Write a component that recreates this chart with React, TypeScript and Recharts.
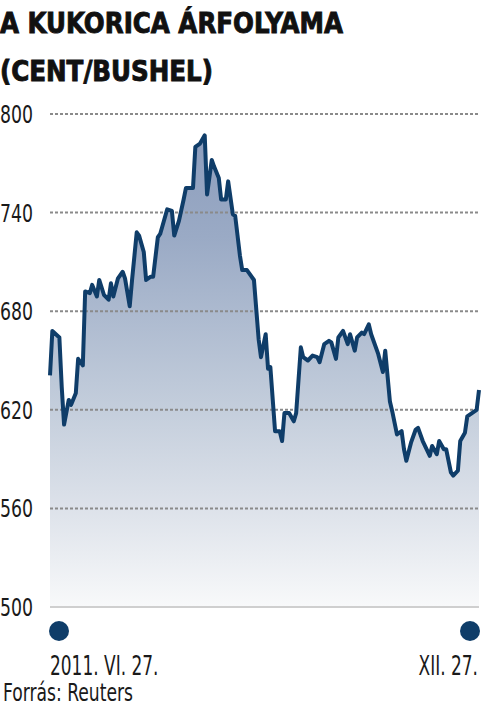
import { ComposedChart, Area, Line, XAxis, YAxis, ReferenceLine } from "recharts";

// days since 2011. VI. 27.
const days = [
  0, 1, 4, 5, 6, 8, 9, 11, 12, 14, 15, 17, 18, 20, 21, 23, 25, 26, 27, 29,
  31, 32, 34, 35, 37, 38, 40, 41, 43, 44, 46, 47, 48, 50, 52, 53, 55, 57, 58, 60,
  61, 62, 64, 66, 67, 69, 70, 72, 73, 75, 76, 78, 79, 81, 82, 84, 85, 87, 89, 90,
  92, 93, 94, 96, 98, 99, 100, 102, 104, 105, 107, 108, 110, 112, 114, 115, 117, 119, 120, 122,
  123, 125, 127, 128, 130, 131, 133, 134, 136, 137, 140, 142, 143, 145, 146, 148, 150, 151, 152, 154,
  156, 157, 159, 162, 163, 165, 166, 168, 169, 171, 172, 174, 175, 177, 178, 180, 182, 183,
];

// cent/bushel
const prices = [
  641, 668, 664, 634, 611, 626, 623, 630, 651, 647, 692, 691, 696, 689, 699, 690, 687, 697, 689, 700,
  704, 700, 683, 699, 728, 726, 716, 699, 701, 701, 725, 727, 732, 742, 741, 726, 735, 748, 755, 755,
  755, 780, 782, 787, 751, 772, 768, 761, 748, 748, 759, 739, 738, 714, 705, 705, 703, 699, 663, 652,
  666, 645, 646, 607, 607, 601, 618, 618, 613, 618, 658, 652, 650, 653, 652, 649, 660, 662, 661, 651,
  664, 668, 660, 666, 656, 664, 667, 666, 672, 666, 654, 643, 656, 625, 619, 605, 607, 596, 589, 600,
  608, 609, 601, 592, 598, 593, 601, 596, 596, 582, 580, 583, 601, 606, 616, 618, 620, 632,
];

const yTicks = [500, 560, 620, 680, 740, 800];
const gridLevels = [560, 620, 680, 740, 800];
const xTicks = [0, 183];
const xLabels = ["2011. VI. 27.", "XII. 27."];

const data = days.map((day, i) => ({ day, price: prices[i] }));

const NAVY = "#0f3d69";
const narrow = "'Liberation Sans Narrow', 'DejaVu Sans Condensed', 'Liberation Sans', sans-serif";

const YTick = (props: any) => {
  const { y, payload } = props;
  return (
    <text x={0} y={y + 9} fontSize={25} fontFamily={narrow} fill="#1a1a1a" textLength={33} lengthAdjust="spacingAndGlyphs">
      {payload.value}
    </text>
  );
};

const XTick = (props: any) => {
  const { x, y, index } = props;
  const first = index === 0;
  // squeeze the label horizontally to mimic the condensed newspaper face
  return (
    <g>
      <circle cx={first ? x + 9 : x - 9} cy={y + 24} r={10} fill={NAVY} />
      <g transform={`translate(${first ? x : x - 1}, ${y + 68}) scale(0.7, 1)`}>
        <text x={0} y={0} textAnchor={first ? "start" : "end"} fontSize={27} fontFamily={narrow} fill="#1a1a1a">
          {xLabels[index]}
        </text>
      </g>
    </g>
  );
};

export default function App() {
  return (
    <div style={{ position: "absolute", left: 0, top: 0, width: 481, height: 707, background: "#fff" }}>
      <ComposedChart width={481} height={707} data={data} margin={{ top: 114, right: 2, bottom: 0, left: 0 }}>
        <defs>
          <linearGradient id="cornFill" gradientUnits="userSpaceOnUse" x1="0" y1="114" x2="0" y2="607">
            <stop offset="0" stopColor="#8a9bbb" />
            <stop offset="0.25" stopColor="#9aaac5" />
            <stop offset="0.6" stopColor="#c4cedc" />
            <stop offset="0.8" stopColor="#dde2ea" />
            <stop offset="1" stopColor="#f8f9fa" />
          </linearGradient>
        </defs>
        <XAxis
          dataKey="day"
          type="number"
          domain={[0, 183]}
          ticks={xTicks}
          axisLine={false}
          tickLine={false}
          tickSize={0}
          tickMargin={0}
          height={100}
          interval={0}
          tick={<XTick />}
        />
        <YAxis
          type="number"
          domain={[500, 800]}
          ticks={yTicks}
          axisLine={false}
          tickLine={false}
          width={50}
          interval={0}
          tick={<YTick />}
        />
        <Area
          dataKey="price"
          type="linear"
          baseValue={500}
          stroke="none"
          fill="url(#cornFill)"
          fillOpacity={1}
          isAnimationActive={false}
        />
        {gridLevels.map((v) => (
          <ReferenceLine key={v} y={v} stroke="#8a8a8a" strokeWidth={2} strokeDasharray="3 2" />
        ))}
        <ReferenceLine y={500} stroke="#cfcfcf" strokeWidth={2} />
        <Line
          dataKey="price"
          type="linear"
          stroke={NAVY}
          strokeWidth={4}
          strokeLinejoin="round"
          dot={false}
          activeDot={false}
          isAnimationActive={false}
        />
      </ComposedChart>
      <svg width={481} height={707} style={{ position: "absolute", left: 0, top: 0, pointerEvents: "none" }}>
        <text x={0} y={33} fontSize={29} fontWeight="bold" fontFamily={narrow} fill="#111" stroke="#111" strokeWidth={0.9} textLength={343} lengthAdjust="spacingAndGlyphs">
          A KUKORICA ÁRFOLYAMA
        </text>
        <text x={0} y={81} fontSize={29} fontWeight="bold" fontFamily={narrow} fill="#111" stroke="#111" strokeWidth={0.9} textLength={213} lengthAdjust="spacingAndGlyphs">
          (CENT/BUSHEL)
        </text>
        <text x={3} y={701} fontSize={24} fontFamily={narrow} fill="#1a1a1a" textLength={130} lengthAdjust="spacingAndGlyphs">
          Forrás: Reuters
        </text>
      </svg>
    </div>
  );
}
